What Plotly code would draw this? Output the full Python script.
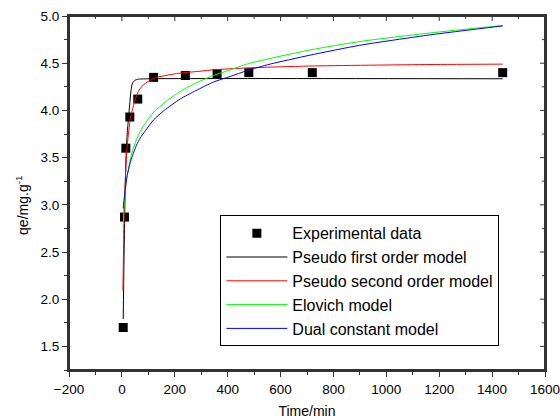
import plotly.graph_objects as go

# Experimental data
t_exp = [5, 10, 15, 30, 60, 120, 240, 360, 480, 720, 1440]
q_exp = [1.70, 2.87, 3.60, 3.93, 4.12, 4.35, 4.37, 4.39, 4.40, 4.40, 4.40]

# Pseudo first order model
t_pfo = [5, 10, 15, 20, 25, 30, 35, 40, 50, 60, 100, 1440]
q_pfo = [1.79, 2.80, 3.45, 3.75, 3.92, 4.08, 4.22, 4.29, 4.32, 4.33, 4.335, 4.335]

# Pseudo second order model
t_pso = [4, 6, 8, 12, 18, 25, 33, 50, 62, 81, 120, 207, 295, 346, 472, 711, 1165, 1440]
q_pso = [2.09, 2.50, 2.87, 3.20, 3.55, 3.76, 3.93, 4.11, 4.20, 4.27, 4.34, 4.39, 4.415, 4.43, 4.45, 4.47, 4.486, 4.49]

# Elovich model
t_elo = [5, 7, 10, 15, 20, 30, 40, 55, 70, 90, 120, 160, 220, 280, 346, 410, 472, 560, 711, 900, 1165, 1440]
q_elo = [2.75, 2.92, 3.05, 3.20, 3.31, 3.46, 3.57, 3.69, 3.78, 3.87, 3.98, 4.08, 4.20, 4.29, 4.37,
         4.43, 4.49, 4.55, 4.64, 4.73, 4.82, 4.90]

# Dual constant model
t_dual = [5, 7, 10, 15, 20, 30, 40, 55, 70, 90, 120, 160, 220, 280, 346, 410, 472, 560, 711, 900, 1165, 1440]
q_dual = [2.96, 3.03, 3.10, 3.22, 3.31, 3.43, 3.52, 3.63, 3.71, 3.79, 3.90, 4.00, 4.12, 4.21, 4.30,
          4.36, 4.42, 4.49, 4.585, 4.69, 4.80, 4.895]

x_range = [-200, 1600]
y_range = [1.25, 5.0]
x_major = [-200, 0, 200, 400, 600, 800, 1000, 1200, 1400, 1600]
x_minor = [-100, 100, 300, 500, 700, 900, 1100, 1300, 1500]
y_major = [1.5, 2.0, 2.5, 3.0, 3.5, 4.0, 4.5, 5.0]
y_minor = [1.25, 1.75, 2.25, 2.75, 3.25, 3.75, 4.25, 4.75]

FONT = "Arial, Liberation Sans, sans-serif"

fig = go.Figure()
fig.add_trace(go.Scatter(x=t_exp, y=q_exp, mode="markers", name="Experimental data",
                         marker=dict(symbol="square", size=9, color="black")))
fig.add_trace(go.Scatter(x=t_pfo, y=q_pfo, mode="lines", name="Pseudo first order model",
                         line=dict(color="black", width=1, shape="spline", smoothing=0.6)))
fig.add_trace(go.Scatter(x=t_pso, y=q_pso, mode="lines", name="Pseudo second order model",
                         line=dict(color="red", width=1, shape="spline", smoothing=0.6)))
fig.add_trace(go.Scatter(x=t_elo, y=q_elo, mode="lines", name="Elovich model",
                         line=dict(color="#00ff00", width=1, shape="spline", smoothing=0.6)))
fig.add_trace(go.Scatter(x=t_dual, y=q_dual, mode="lines", name="Dual constant model",
                         line=dict(color="blue", width=1, shape="spline", smoothing=0.6)))

# frame and inward ticks on top/right
shapes = [dict(type="rect", xref="paper", yref="paper", x0=0, x1=1, y0=0, y1=1,
               line=dict(color="#333333", width=2), layer="above")]
for vals, ln in ((x_major, 5), (x_minor, 3)):
    for v in vals:
        shapes.append(dict(type="line", xref="x", yref="paper", ysizemode="pixel", yanchor=1,
                           x0=v, x1=v, y0=0, y1=-ln, line=dict(color="#333333", width=1)))
for vals, ln in ((y_major, 5), (y_minor, 3)):
    for v in vals:
        shapes.append(dict(type="line", yref="y", xref="paper", xsizemode="pixel", xanchor=1,
                           y0=v, y1=v, x0=0, x1=-ln, line=dict(color="#333333", width=1)))

fig.update_layout(
    width=560, height=420,
    margin=dict(l=69, r=15, t=16, b=50),
    paper_bgcolor="white", plot_bgcolor="white",
    font=dict(family=FONT, size=13, color="black"),
    xaxis=dict(range=x_range, tickvals=x_major, showgrid=False, zeroline=False, automargin=False,
               showline=True, mirror=True, linecolor="#333333", linewidth=2,
               ticks="outside", ticklen=5, tickwidth=1, tickcolor="#333333",
               minor=dict(tickvals=x_minor, ticks="outside", ticklen=3, tickcolor="#333333"),
               tickfont=dict(size=13.5), ticklabelstandoff=1, ticklabeloverflow="allow",
               title=dict(text="Time/min", font=dict(size=14), standoff=10)),
    yaxis=dict(range=y_range, tickvals=y_major, showgrid=False, zeroline=False, automargin=False,
               showline=True, mirror=True, linecolor="#333333", linewidth=2,
               ticks="outside", ticklen=5, tickwidth=1, tickcolor="#333333",
               minor=dict(tickvals=y_minor, ticks="outside", ticklen=3, tickcolor="#333333"),
               tickformat=".1f", tickfont=dict(size=13.5)),
    legend=dict(x=0.318, y=0.437, xanchor="left", yanchor="top",
                bordercolor="black", borderwidth=1, bgcolor="white",
                font=dict(size=16, family=FONT), itemwidth=61,
                tracegroupgap=0),
    showlegend=True,
    shapes=shapes,
    annotations=[dict(text="qe/mg.g<sup>-1</sup>", textangle=-90, xref="paper", yref="paper",
                      x=-0.099, y=0.466, xanchor="center", yanchor="middle", showarrow=False,
                      font=dict(size=14, family=FONT))],
)

fig.write_html("out.html")
